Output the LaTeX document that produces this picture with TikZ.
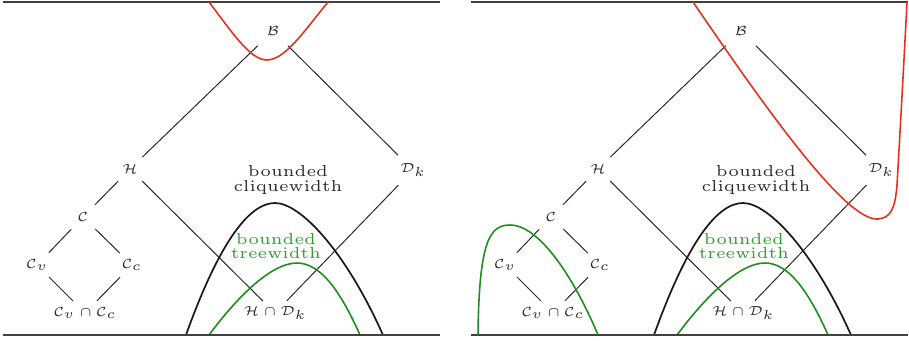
\documentclass[tikz,border=0pt]{standalone}
\font\captfont=cmr5 at 6pt
\definecolor{txt}{HTML}{2A2A2A}
\definecolor{framec}{HTML}{404040}
\definecolor{cred}{HTML}{E0321E}
\definecolor{cgreen}{HTML}{1E8C1E}
\definecolor{tgreen}{HTML}{2E9E2E}
\tikzset{
  lbl/.style={text=txt, inner sep=0.5pt, font=\tiny},
  conn/.style={draw=txt, line width=0.38pt, shorten <=6.5pt, shorten >=6.5pt},
  far/.style={shorten <=8pt},
  farend/.style={shorten >=8pt},
  framel/.style={draw=framec, line width=0.95pt},
  bellblack/.style={draw=black!90, line width=0.65pt},
  bellgreen/.style={draw=cgreen, line width=0.6pt},
  redc/.style={draw=cred, line width=0.6pt},
  captext/.style={font={\fontsize{6}{5.4}\selectfont\captfont}, align=center, inner sep=0pt},
}
\newcommand{\panelbody}{%
  \node[lbl] (B) at (273,31) {$\mathcal{B}$};
  \node[lbl] (H) at (130,169) {$\mathcal{H}$};
  \node[lbl] (Dk) at (413,170) {$\mathcal{D}_k$};
  \node[lbl] (C) at (83,217) {$\mathcal{C}$};
  \node[lbl] (Cv) at (37,265) {$\mathcal{C}_v$};
  \node[lbl] (Cc) at (132,265) {$\mathcal{C}_c$};
  \node[lbl] (CvCc) at (85,313) {$\mathcal{C}_v\cap\mathcal{C}_c$};
  \node[lbl] (HDk) at (275,313) {$\mathcal{H}\cap\mathcal{D}_k$};
  \node[captext, text=txt] (cw) at (288,180) {bounded\\cliquewidth};
  \node[captext, text=tgreen] (tw) at (276,246) {bounded\\treewidth};
  \draw[conn, far] (B.center) -- (H.center);
  \draw[conn, far, farend] (B.center) -- (Dk.center);
  \draw[conn] (H.center) -- (C.center);
  \draw[conn] (H.center) -- (HDk.center);
  \draw[conn, far] (Dk.center) -- (HDk.center);
  \draw[conn] (C.center) -- (Cv.center);
  \draw[conn] (C.center) -- (Cc.center);
  \draw[conn] (Cv.center) -- (CvCc.center);
  \draw[conn] (Cc.center) -- (CvCc.center);
  \draw[bellblack] (186,335) .. controls (220,240) and (250,203) .. (275,203)
                   .. controls (300,203) and (345,250) .. (383,335);
  \draw[bellgreen] (209,335) .. controls (235,300) and (270,263) .. (297,263)
                   .. controls (320,263) and (340,290) .. (360,335);
  \draw[framel] (3,2) -- (440,2);
  \draw[framel] (3,335) -- (440,335);
}
\begin{document}
\begin{tikzpicture}[x=0.38pt, y=-0.38pt]
  \useasboundingbox (0,0) rectangle (909,340);
  \begin{scope}[name prefix=L-]
    \panelbody
    \draw[redc] (209,2) .. controls (232,32) and (250,60) .. (267,60)
                .. controls (285,60) and (305,30) .. (328,2);
  \end{scope}
  \begin{scope}[shift={(468,0)}, name prefix=R-]
    \panelbody
    \draw[bellgreen] (10,335) .. controls (11,240) and (22,225) .. (42,225)
                     .. controls (72,225) and (107,280) .. (130,335);
  \end{scope}
  \draw[redc] (693,2) .. controls (760,100) and (845,222) .. (878,219)
              .. controls (890,218) and (895,210) .. (897,185)
              .. controls (899,150) and (903,80) .. (907,2);
\end{tikzpicture}
\end{document}
